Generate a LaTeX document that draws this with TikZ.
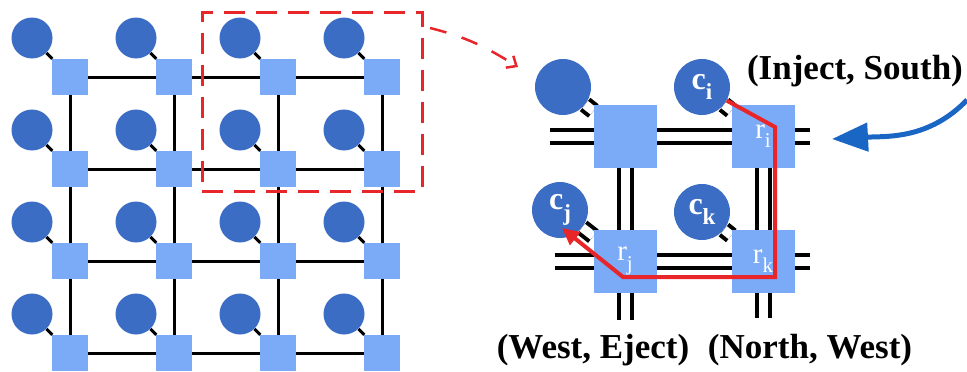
\documentclass[tikz,border=0pt]{standalone}
\usepackage{fontspec}
\setmainfont{Liberation Serif}
\usepackage{xcolor}
\usepackage{tikz}
\usetikzlibrary{arrows.meta,positioning,backgrounds,calc}
\definecolor{corefill}{HTML}{3B6DC4}
\definecolor{routerfill}{HTML}{7BABF7}
\definecolor{pathred}{HTML}{E8262A}
\definecolor{injectblue}{HTML}{1A66C4}
\newcommand{\nodeidx}[2]{\raisebox{-0.32em}{\fontsize{#2}{#2}\selectfont #1}}

\begin{document}
\begin{tikzpicture}[x=1pt,y=-1pt,
          every node/.style={inner sep=0pt},
          core/.style={circle,fill=corefill,minimum size=41pt},
          router/.style={rectangle,fill=routerfill,minimum size=36pt},
          bigcore/.style={circle,fill=corefill,minimum size=56pt,text=white,
                          font=\fontsize{32}{34}\selectfont\bfseries},
          bigrouter/.style={rectangle,fill=routerfill,minimum size=63pt,text=white,
                            font=\fontsize{29}{30}\selectfont},
          wire/.style={line width=3pt},
          dwire/.style={double=white,double distance=9pt,line width=4pt},
          zoombox/.style={draw=pathred,line width=3pt,dash pattern=on 21pt off 11pt,
                          minimum width=220pt,minimum height=179pt},
          zoomarr/.style={draw=pathred,line width=2.5pt,dash pattern=on 17pt off 16pt,
                          -{Straight Barb[length=8pt,width=14pt]}},
          route/.style={draw=pathred,line width=4pt,-{Triangle[length=17pt,width=16pt]}},
          inject/.style={draw=injectblue,line width=5pt,-{Triangle[length=36pt,width=28pt]}},
          tag/.style={font=\fontsize{35}{40}\selectfont\bfseries,anchor=base}
      ]
        \useasboundingbox (0,0) rectangle (967,372);

        \foreach \i in {1,...,4}
          \foreach \j in {1,...,4} {
            \node[router] (r\i\j) at ({70+104*(\i-1)},{77+92*(\j-1)}) {};
            \node[core] (c\i\j) at ({32+104*(\i-1)},{38+92*(\j-1)}) {};
          }

        \begin{scope}[on background layer]
          \foreach \i in {1,...,4} {
            \draw[wire] (r1\i.center) -- (r4\i.center);
            \draw[wire] (r\i1.center) -- (r\i4.center);
            \foreach \j in {1,...,4}
              \draw[wire] (c\i\j) -- (r\i\j);
          }
        \end{scope}

        \node[zoombox] (zoomed) at (312,101.5) {};
        \coordinate (zs) at (430,28);
        \coordinate (ze) at (518,67);
        \draw[zoomarr] (zs) to[out=-14,in=148] (ze);

        \node[bigcore] (ca) at (563,87) {};
        \node[bigrouter] (ra) at (625,136) {};
        \node[bigcore] (ci) at (702,87) {c\nodeidx{i}{23}};
        \node[bigrouter] (ri) at (763,136) {r\nodeidx{i}{21}};
        \node[bigcore] (cj) at (560,210) {c\nodeidx{j}{23}};
        \node[bigrouter] (rj) at (625,261) {r\nodeidx{j}{21}};
        \node[bigcore] (ck) at (702,212) {c\nodeidx{k}{23}};
        \node[bigrouter] (rk) at (763,261) {r\nodeidx{k}{21}};

        \coordinate (tw) at (550,136);
        \coordinate (te) at (810,136);
        \coordinate (bw) at (555,261);
        \coordinate (be) at (810,261);
        \coordinate (sj) at (625,320);
        \coordinate (sk) at (763,318);

        \begin{scope}[on background layer]
          \draw[dwire] (tw) -- (ra.center) -- (ri.center) -- (te);
          \draw[dwire] (bw) -- (rj.center) -- (rk.center) -- (be);
          \draw[dwire] (ra.center) -- (rj.center) -- (sj);
          \draw[dwire] (ri.center) -- (rk.center) -- (sk);
          \draw[dwire] (ca) -- (ra);
          \draw[dwire] (ci) -- (ri);
          \draw[dwire] (cj) -- (rj);
          \draw[dwire] (ck) -- (rk);
        \end{scope}

        \coordinate (bi) at (775,127);
        \coordinate (bk) at (775,277);
        \coordinate (bj) at (623,277);
        \coordinate (tipj) at (562,228);
        \draw[route] (ci) -- (bi) -- (bk) -- (bj) -- (tipj);

        \coordinate (bs) at (967,100);
        \coordinate (bt) at (832,139);
        \draw[inject] (bs) to[out=226,in=3] (bt);

        \node[tag] (injsouth) at (855,79) {(Inject, South)};
        \node[tag] (westeject) at (593,358) {(West, Eject)};
        \node[tag] (northwest) at (810,358) {(North, West)};
      \end{tikzpicture}
\end{document}
